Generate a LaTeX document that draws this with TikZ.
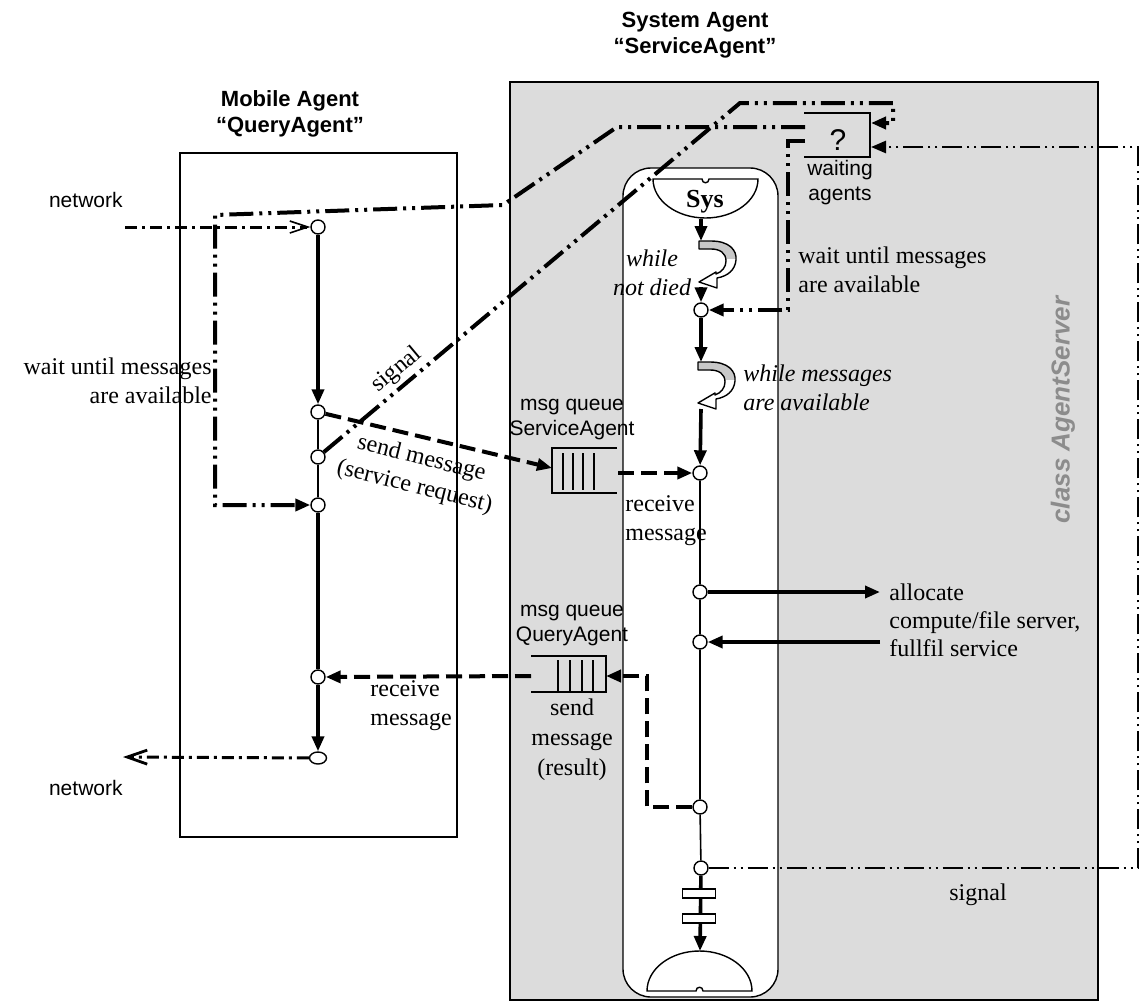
\documentclass[tikz,border=0pt]{standalone}
\usepackage{fontspec}
\setmainfont{Liberation Serif}
\setsansfont{Liberation Sans}
\usetikzlibrary{arrows.meta,shapes.geometric}
\definecolor{bggray}{RGB}{220,220,220}
\definecolor{loopgray}{RGB}{200,200,200}
\definecolor{classgray}{RGB}{140,140,140}
\def\looppath{(0,0) -- (12,0) .. controls (30,0) and (38,9) .. (37,19) .. controls (36,29) and (29,35) .. (18,37) -- (18,47) -- (0,41) -- (17,31) -- (17,33) .. controls (23,31) and (27,26) .. (27,20) .. controls (27,12) and (21,8) .. (12,8) -- (0,8) -- cycle}
\newcommand\myloop[2]{%
  \begin{scope}[shift={(#1,#2)}]
    \path[fill=white] \looppath;
    \begin{scope}\clip (-5,-5) rectangle (45,17); \fill[loopgray] \looppath; \end{scope}
    \draw[line width=0.7pt,line join=round] \looppath;
  \end{scope}}
\begin{document}
\begin{tikzpicture}[x=0.5pt,y=-0.5pt,
  serif/.style={font=\fontsize{12}{14.5}\selectfont, align=center, inner sep=0pt},
  serifit/.style={font=\itshape\fontsize{12}{14.5}\selectfont, align=center, inner sep=0pt},
  sans/.style={font=\sffamily\fontsize{10.5}{12.5}\selectfont, align=center, inner sep=0pt},
  title/.style={font=\sffamily\bfseries\fontsize{11}{13}\selectfont, align=center, inner sep=0pt},
  st/.style={circle, draw, fill=white, line width=0.7pt, minimum size=7pt, inner sep=0pt},
  boxline/.style={line width=0.7pt},
  thinflow/.style={line width=0.8pt},
  thickflow/.style={line width=1.8pt},
  tri/.style={-{Triangle[length=7.5pt,width=6pt]}},
  dashflow/.style={line width=2pt, dash pattern=on 8pt off 3.5pt},
  ddot/.style={line width=2pt, dash pattern=on 12pt off 3pt on 1.5pt off 3pt on 1.5pt off 3pt},
  ddotm/.style={line width=1.3pt, dash pattern=on 10pt off 2.5pt on 1pt off 2.5pt on 1pt off 2.5pt},
  netflow/.style={line width=1.5pt, dash pattern=on 6pt off 2.5pt on 1.5pt off 2.5pt},
]
\useasboundingbox (0,0) rectangle (1145,1001);
% boxes
\filldraw[fill=bggray, boxline] (510,82) rectangle (1098,1000);
\draw[boxline] (180,153) rectangle (457,837);
\filldraw[fill=white, boxline, rounded corners=14pt] (623,168) rectangle (778,997);
% Sys top half-ellipse
\draw[boxline, fill=white] (653,179) -- (702,179) .. controls (702,184) and (709,184) .. (709,179) -- (758,179)
  .. controls (758,200.5) and (734.5,218) .. (705.5,218) .. controls (676.5,218) and (653,200.5) .. (653,179) -- cycle;
% bottom half-ellipse
\draw[boxline, fill=white] (647,991) .. controls (647,969) and (670.5,951) .. (699.5,951) .. controls (728.5,951) and (752,969) .. (752,991)
  -- (703,991) .. controls (703,986) and (696,986) .. (696,991) -- cycle;
% waiting box
\draw[boxline] (804,113) -- (870,113) -- (870,157) -- (804,157);
% queues
\draw[boxline] (617,448) -- (552,448) -- (552,493) -- (617,493);
\foreach \q in {563,573,583,594} \draw[boxline] (\q,453) -- (\q,490);
\draw[boxline] (531,656) -- (606,656) -- (606,692) -- (531,692);
\foreach \q in {558,570,582,593} \draw[boxline] (\q,660) -- (\q,691);
% loops
\myloop{699}{241}
\myloop{698}{362}
% coordinates
\coordinate (sysb) at (701,219);
\coordinate (l1t) at (701,241);
\coordinate (l1e) at (701,287);
\coordinate (l2t) at (701,362);
\coordinate (l2e) at (701,409);
\coordinate (cb) at (700,951);
\coordinate (alloc) at (880,592);
\coordinate (fserv) at (880,642);
\coordinate (saql) at (552,468);
\coordinate (saqr) at (618,473);
\coordinate (qaqr) at (606,676);
\coordinate (qaql) at (531,676);
\coordinate (d3a) at (647,807);
\coordinate (d3b) at (647,676);
\coordinate (wql) at (805,127);
\coordinate (w1) at (617,127);
\coordinate (w2) at (503,205);
\coordinate (w3) at (215,215);
\coordinate (w4) at (215,505);
\coordinate (s1a) at (740,103);
\coordinate (s1b) at (893,103);
\coordinate (s1c) at (893,123);
\coordinate (wqr1) at (871,123);
\coordinate (wqb) at (805,141);
\coordinate (s2a) at (788,141);
\coordinate (s2b) at (788,310);
\coordinate (s3a) at (1138,868);
\coordinate (s3b) at (1138,147);
\coordinate (wqr2) at (871,147);
\coordinate (netin) at (125,227);
\coordinate (netout) at (123,757);
% state circles
\node[st] (M1) at (318,227) {};
\node[st] (M2) at (318,412) {};
\node[st] (M3) at (318,457) {};
\node[st] (M4) at (318,505) {};
\node[st] (M5) at (318,677) {};
\node[st, ellipse, minimum width=8.5pt, minimum height=6pt] (M6) at (318,758) {};
\node[st] (c1) at (701,310) {};
\node[st] (c2) at (700,473) {};
\node[st] (c3) at (700,592) {};
\node[st] (c4) at (700,642) {};
\node[st] (c5) at (700,807) {};
\node[st] (c6) at (701,868) {};
% solid flows
\draw[thinflow] (M2) -- (M3) -- (M4);
\draw[thinflow] (c2) -- (c3) -- (c4) -- (c5) -- (c6);
\draw[thickflow, tri] (M1) -- (M2);
\draw[thickflow] (M4) -- (M5);
\draw[thickflow, tri] (M5) -- (M6);
\draw[thickflow, tri] (sysb) -- (l1t);
\draw[thickflow, tri] (l1e) -- (c1);
\draw[thickflow, tri] (c1) -- (l2t);
\draw[thickflow, tri] (l2e) -- (c2);
\draw[thickflow, tri] (c6) -- (cb);
\draw[thickflow, tri] (c3) -- (alloc);
\draw[thickflow, tri] (fserv) -- (c4);
% bars
\node[draw, fill=white, line width=0.7pt, minimum width=16.5pt, minimum height=4.5pt, inner sep=0pt] (bar1) at (699,893.5) {};
\node[draw, fill=white, line width=0.7pt, minimum width=16.5pt, minimum height=4.5pt, inner sep=0pt] (bar2) at (699,918.5) {};
% dashed message flows
\draw[dashflow, tri] (M2) -- (saql);
\draw[dashflow, tri] (saqr) -- (c2);
\draw[dashflow, tri] (c5) -- (d3a) -- (d3b) -- (qaqr);
\draw[dashflow, tri] (qaql) -- (M5);
% dash-dot flows
\draw[ddot, tri] (wql) -- (w1) -- (w2) -- (w3) -- (w4) -- (M4);
\draw[ddot, tri] (M3) -- (s1a) -- (s1b) -- (s1c) -- (wqr1);
\draw[ddot, tri] (wqb) -- (s2a) -- (s2b) -- (c1);
\draw[ddotm, tri] (c6) -- (s3a) -- (s3b) -- (wqr2);
\draw[netflow, -{Straight Barb[length=9pt,width=6pt,line width=0.8pt]}] (netin) -- (M1);
\draw[netflow, -{Straight Barb[length=10pt,width=7pt,line width=1.4pt]}] (M6) -- (netout);
% texts
\node[title] (tsys) at (695,35) {System Agent\\“ServiceAgent”};
\node[title] (tmob) at (290,114) {Mobile Agent\\“QueryAgent”};
\node[sans, anchor=east] (net1) at (123,200) {network};
\node[sans, anchor=east] (net2) at (123,788) {network};
\node[serif, align=right, anchor=east] (wl) at (212,381) {wait until messages\\are available};
\node[serif, rotate=40] (sg1) at (397,370) {signal};
\node[serif, rotate=-14] (smsg) at (418,473) {send message\\(service request)};
\node[sans] (saqt) at (572,420) {msg queue\\ServiceAgent};
\node[serif, align=left, anchor=west] (rm1) at (625,521) {receive\\message};
\node[sans] (qaqt) at (572,626) {msg queue\\QueryAgent};
\node[serif, font=\fontsize{12}{15}\selectfont] (sm2) at (572,740) {send\\message\\(result)};
\node[serif, align=left, anchor=west] (rm2) at (370,706) {receive\\message};
\node[serifit] (wnd) at (652,273) {while\\not died};
\node[serif, align=left, anchor=west] (wr) at (798,270) {wait until messages\\are available};
\node[serifit, align=left, anchor=west] (wma) at (743,388) {while messages\\are available};
\node[serif, align=left, anchor=west, font=\fontsize{12}{14}\selectfont] (alc) at (889,620) {allocate\\compute/file server,\\fullfil service};
\node[serif] (sg2) at (978,895) {signal};
\node[sans, font=\sffamily\fontsize{15}{17}\selectfont] (qm) at (838,140) {?};
\node[sans] (wa) at (840,183) {waiting\\agents};
\node[inner sep=0pt, rotate=90, text=classgray, font=\sffamily\bfseries\itshape\fontsize{13}{15}\selectfont] (cls) at (1063,410) {class AgentServer};
\node[inner sep=0pt, font=\bfseries\fontsize{13}{15}\selectfont] (systxt) at (705,202) {Sys};
\end{tikzpicture}
\end{document}
